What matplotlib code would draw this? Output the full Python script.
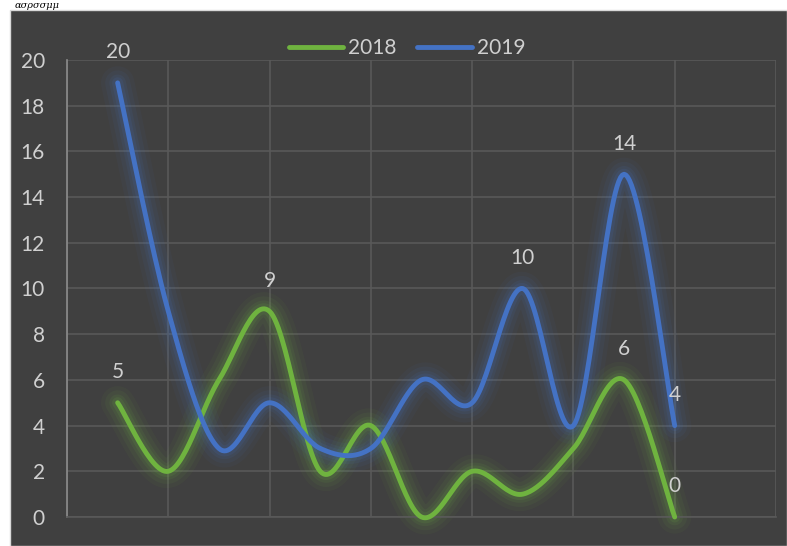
import numpy as np
import matplotlib
matplotlib.use("Agg")
import matplotlib.pyplot as plt
from matplotlib.patches import Rectangle

# values (12 points per series)
points = list(range(12))
y2018 = [5, 2, 6, 9, 2, 4, 0, 2, 1, 3, 6, 0]
y2019 = [19, 9, 3, 5, 3, 3, 6, 5, 10, 4, 15, 4]
series_names = ["2018", "2019"]
yticks = list(range(0, 21, 2))

# data labels: (series index, point index, text)
labels = [(0, 0, "5"), (0, 3, "9"), (0, 10, "6"), (0, 11, "0"),
          (1, 0, "20"), (1, 8, "10"), (1, 10, "14"), (1, 11, "4")]

BG = "#404040"
GRID = "#595959"
TXT = "#d0d0d0"
COLORS = ["#6fb33f", "#4472c4"]

plt.rcParams["font.family"] = ["Lato", "DejaVu Sans"]


def smooth(x, y, n=30):
    # excel-like smoothed line: catmull-rom segments between points
    x = np.asarray(x, float)
    y = np.asarray(y, float)
    px = np.concatenate([[x[0]], x, [x[-1]]])
    py = np.concatenate([[y[0]], y, [y[-1]]])
    xs, ys = [], []
    t = np.linspace(0, 1, n)
    for i in range(1, len(px) - 2):
        p0, p1, p2, p3 = (np.array([px[j], py[j]]) for j in (i - 1, i, i + 1, i + 2))
        c1 = p1 + (p2 - p0) / 6
        c2 = p2 - (p3 - p1) / 6
        b = ((1 - t) ** 3)[:, None] * p1 + (3 * (1 - t) ** 2 * t)[:, None] * c1 \
            + (3 * (1 - t) * t ** 2)[:, None] * c2 + (t ** 3)[:, None] * p2
        xs.append(b[:, 0])
        ys.append(b[:, 1])
    return np.concatenate(xs), np.concatenate(ys)


fig = plt.figure(figsize=(7.87, 5.46), dpi=100, facecolor="white")
fig.patches.append(Rectangle((10 / 787, 0), 1 - 10 / 787, 1 - 10 / 546,
                             transform=fig.transFigure, facecolor=BG,
                             edgecolor="#d9d9d9", linewidth=1.0, zorder=-10))
# fragment of the italic heading above the chart (mostly cropped in the source)
fig.text(15 / 787, 1 - 1 / 546, "ασρσσμμ", fontsize=7, style="italic",
         family="DejaVu Serif", color="black", va="top", ha="left")

ax = fig.add_axes([67 / 787, 29 / 546, (776 - 67) / 787, (517 - 60) / 546])
ax.set_facecolor(BG)
ax.set_xlim(-1, 13)
ax.set_ylim(0, 20)
ax.set_yticks(yticks)
ax.set_xticks(range(-1, 14, 2))
ax.set_xticklabels([])
ax.tick_params(length=0, labelsize=15, labelcolor=TXT, pad=16)
ax.grid(True, color=GRID, linewidth=1.2)
ax.set_axisbelow(True)
for s in ("top", "right"):
    ax.spines[s].set_visible(False)
ax.spines["left"].set_color("#8c8c8c")
ax.spines["left"].set_linewidth(1.2)
ax.spines["bottom"].set_color(GRID)
ax.spines["bottom"].set_linewidth(1.2)

handles = []
for vals, name, col in zip([y2018, y2019], series_names, COLORS):
    sx, sy = smooth(points, vals)
    # soft glow under the line
    for lw, a in [(24, 0.05), (18, 0.07), (12, 0.09), (8, 0.12)]:
        ax.plot(sx, sy, color=col, lw=lw, alpha=a, solid_capstyle="round",
                solid_joinstyle="round", zorder=2, clip_on=False)
    h, = ax.plot(sx, sy, color=col, lw=3.5, solid_capstyle="round",
                 label=name, zorder=3, clip_on=False)
    handles.append(h)

data = [y2018, y2019]
for si, pi, txt in labels:
    ax.annotate(txt, (points[pi], data[si][pi]), xytext=(0, 22),
                textcoords="offset points", ha="center", va="center",
                fontsize=15, color=TXT, zorder=4)

leg = fig.legend(handles=handles, loc="center", bbox_to_anchor=(407 / 787, 1 - 48 / 546),
                 ncol=2, frameon=False, fontsize=15, handlelength=2.6,
                 handletextpad=0.25, columnspacing=1.0, labelcolor=TXT)

fig.savefig("out.png", dpi=100, facecolor=fig.get_facecolor())
